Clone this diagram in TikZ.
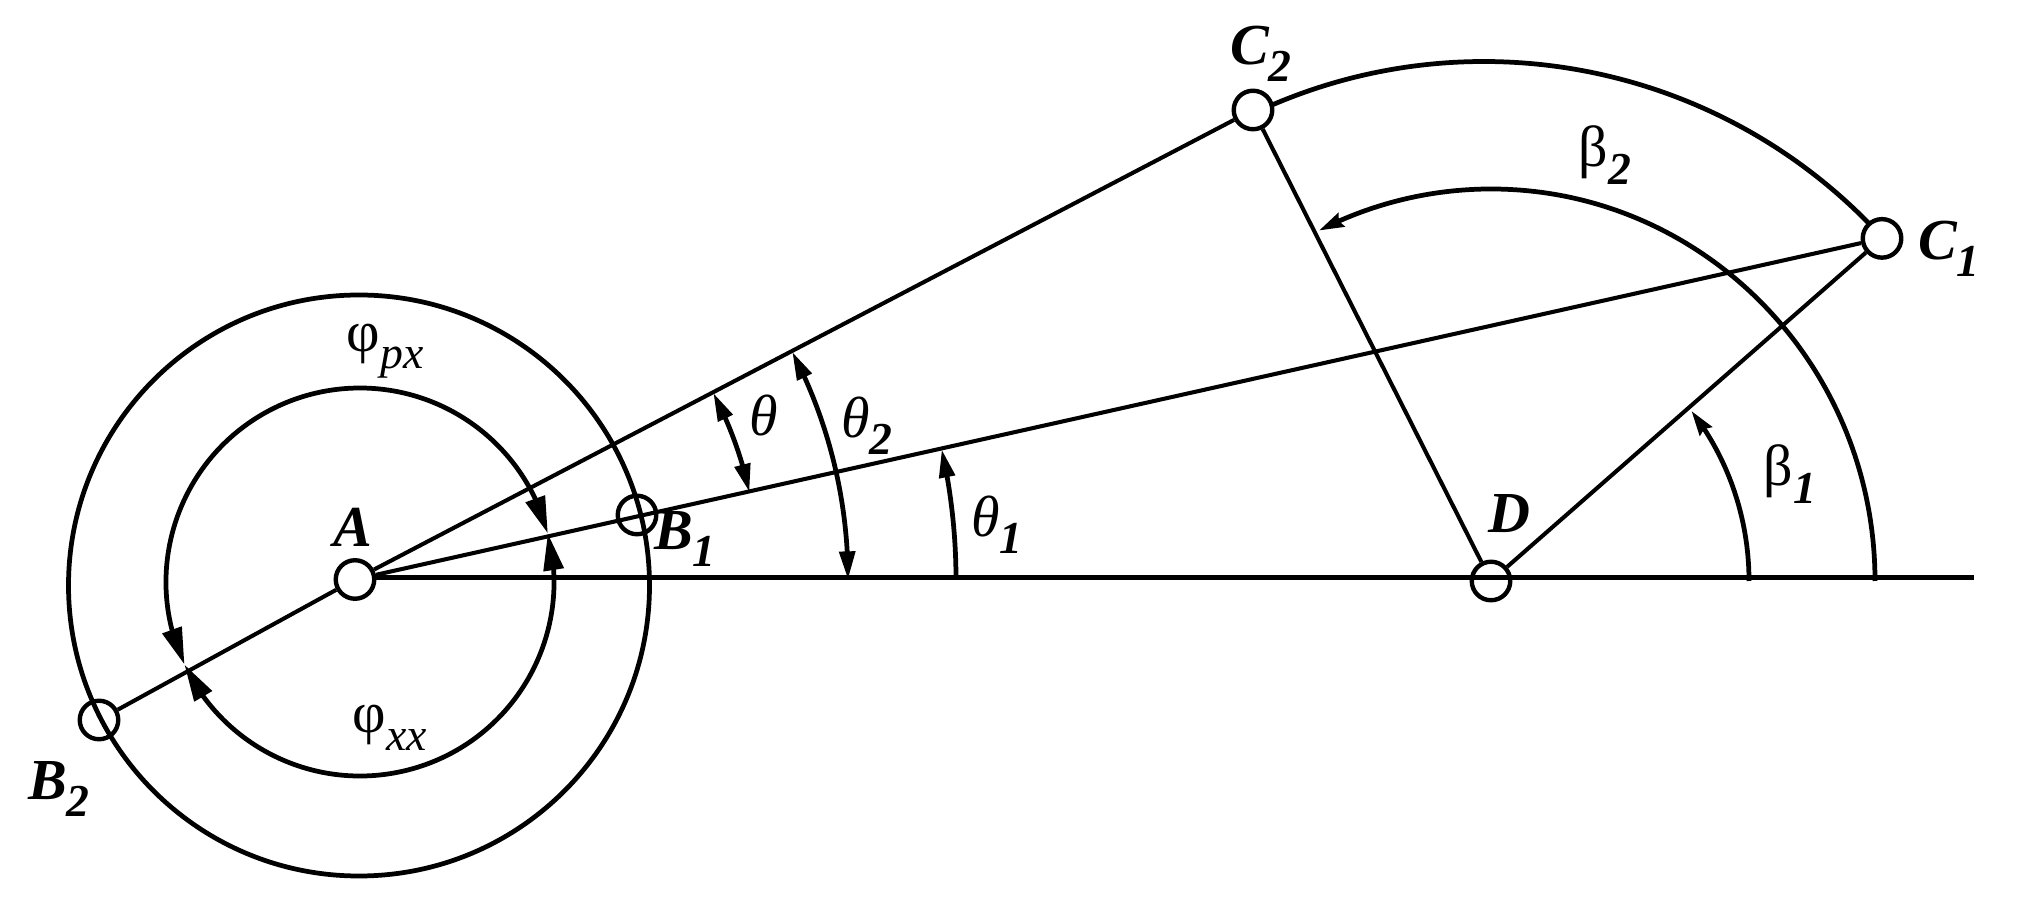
\documentclass[tikz,border=0pt]{standalone}
\usepackage{fontspec}
\setmainfont{Liberation Serif}
\usetikzlibrary{arrows.meta,bending}
\newcommand{\subsc}[1]{\raisebox{-0.3em}{\fontsize{13}{14}\selectfont\bfseries\itshape #1}}
\tikzset{
  pin/.style={circle,draw=black,line width=1.25pt,minimum size=0.385cm,inner sep=0pt},
  solidpin/.style={pin,fill=white},
  lab/.style={inner sep=0pt,font=\fontsize{16.5}{18}\selectfont},
  bilab/.style={lab,font=\fontsize{16.5}{18}\selectfont\bfseries\itshape},
  bar/.style={line width=1.15pt,black},
  ground/.style={line width=1.4pt,black},
  curve/.style={line width=1.35pt,black},
  bigtip/.style={{Triangle[length=10.5pt,width=5.6pt,flex]}-{Triangle[length=10.5pt,width=5.6pt,flex]}},
  midtip/.style={{Triangle[length=8pt,width=4.4pt,flex]}-{Triangle[length=8pt,width=4.4pt,flex]}},
  onetip/.style={-{Triangle[length=8pt,width=4.4pt,flex]}},
  smalltip/.style={-{Stealth[length=7pt,width=4.2pt,inset=0.8pt,flex]}}
}
\begin{document}
\begin{tikzpicture}[x=0.01cm,y=0.01cm]
\useasboundingbox[fill=white] (0,0) rectangle (2024,903);
% centres of the large arcs
\coordinate (Oo) at (359,317.5);
\coordinate (Oi) at (360,321);
\coordinate (Oc) at (1484,303);
\coordinate (E) at (1974,325.5);
% the circle and arcs that run beneath the joints
\draw[curve] (Oo) circle[radius=290.5];
\draw[curve] ([shift={(42.3:538.5)}]Oc) arc[start angle=42.3,end angle=115.2,radius=538.5];
% joints
\node[solidpin] (A) at (355,323.5) {};
\node[pin] (B1) at (637,388) {};
\node[pin] (B2) at (99,183) {};
\node[solidpin] (C1) at (1882,664.6) {};
\node[solidpin] (C2) at (1253,793) {};
\node[pin] (D) at (1491,322) {};
% links
\draw[ground] (A.east |- E) -- (E);
\draw[bar] (A) -- (C1);
\draw[bar] (A) -- (C2);
\draw[bar] (A) -- (B2);
\draw[bar] (D) -- (C1);
\draw[bar] (D) -- (C2);
% crank angles
\draw[curve,bigtip] ([shift={(205.2:194)}]Oi) arc[start angle=205.2,end angle=14.5,radius=194];
\draw[curve,bigtip] ([shift={(14.5:194)}]Oi) arc[start angle=14.5,end angle=-154.8,radius=194];
% transmission angles
\draw[curve,midtip] ([shift={(12.5:404)}]A.center) arc[start angle=12.5,end angle=27.5,radius=404];
\draw[curve,midtip] ([shift={(0:493)}]A.center) arc[start angle=0,end angle=27.5,radius=493];
\draw[curve,onetip] ([shift={(0:601)}]A.center) arc[start angle=0,end angle=12.5,radius=601];
% rocker angles
\draw[curve,smalltip] ([shift={(0:258 and 270)}]D.center) arc[start angle=0,end angle=39,x radius=258,y radius=270];
\draw[curve,smalltip] ([shift={(0:384 and 392)}]D.center) arc[start angle=0,end angle=116.6,x radius=384,y radius=392];
% labels
\node[bilab] (lA) at (353,376) {A};
\node[bilab] (lB1) at (685,364) {B\subsc{1}};
\node[bilab] (lB2) at (59,114) {B\subsc{2}};
\node[bilab] (lC1) at (1949,654) {C\subsc{1}};
\node[bilab] (lC2) at (1261,849) {C\subsc{2}};
\node[bilab] (lD) at (1509,389) {D};
\node[lab] (lpx) at (385,552) {φ\subsc{\mdseries px}};
\node[lab] (lxx) at (390,175) {φ\subsc{\mdseries xx}};
\node[lab] (lt) at (764,487) {\itshape θ};
\node[lab] (lt2) at (867,477) {\itshape θ\subsc{2}};
\node[lab] (lt1) at (997,378) {\itshape θ\subsc{1}};
\node[lab] (lb2) at (1605,748) {β\subsc{2}};
\node[lab] (lb1) at (1790,429) {β\subsc{1}};
\end{tikzpicture}
\end{document}
